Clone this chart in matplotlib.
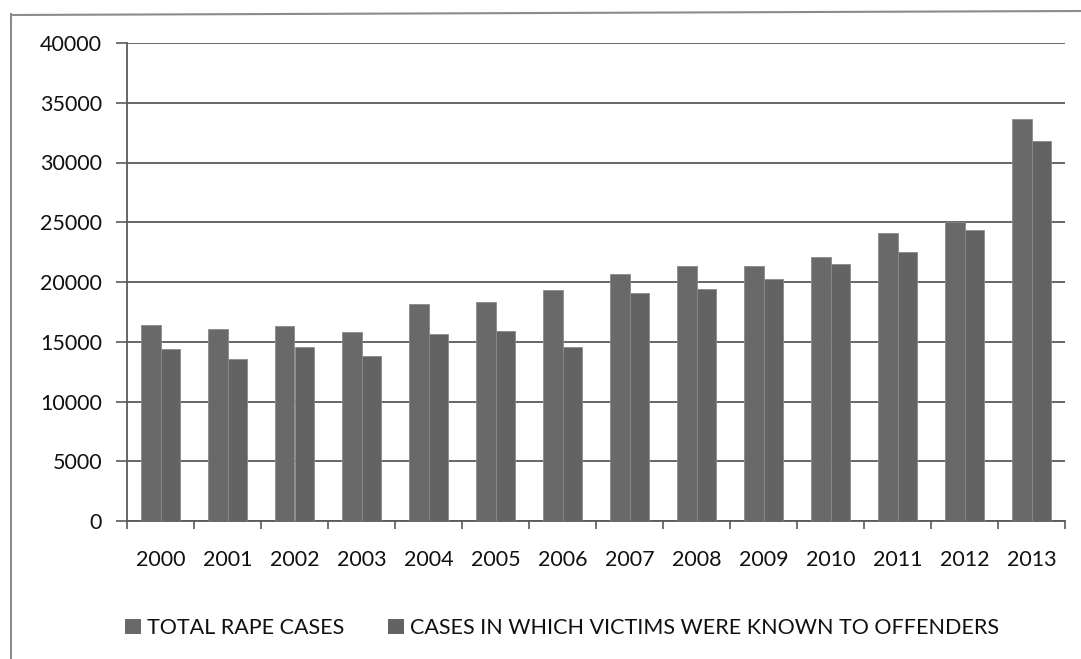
import matplotlib
matplotlib.use("Agg")
import matplotlib.pyplot as plt
from matplotlib.patches import Patch
from matplotlib.lines import Line2D
import numpy as np

years = ["2000", "2001", "2002", "2003", "2004", "2005", "2006",
         "2007", "2008", "2009", "2010", "2011", "2012", "2013"]
total_cases = [16440, 16080, 16330, 15800, 18190, 18300, 19300,
               20640, 21380, 21300, 22100, 24090, 25000, 33670]
known_cases = [14360, 13530, 14530, 13800, 15610, 15860, 14530,
               19090, 19450, 20220, 21490, 22490, 24390, 31800]
series_names = ["TOTAL RAPE CASES", "CASES IN WHICH VICTIMS WERE KNOWN TO OFFENDERS"]
y_ticks = [0, 5000, 10000, 15000, 20000, 25000, 30000, 35000, 40000]

plt.rcParams['font.family'] = ['Lato', 'DejaVu Sans']

W, H = 1081, 659
fig = plt.figure(figsize=(W / 100, H / 100), dpi=100)
ax = fig.add_axes([127 / W, 1 - 521 / H, (1065 - 127) / W, (521 - 43) / H])

c1 = "#696969"
c2 = "#636363"
x = np.arange(len(years))
bw = 0.285
ax.bar(x - bw / 2, total_cases, bw, color=c1, edgecolor="#8a8a8a", linewidth=0.6, zorder=3)
ax.bar(x + bw / 2, known_cases, bw, color=c2, edgecolor="#8a8a8a", linewidth=0.6, zorder=3)

ax.set_xlim(-0.5, len(years) - 0.5)
ax.set_ylim(0, 40000)
ax.set_yticks(y_ticks)
ax.set_yticklabels([str(v) for v in y_ticks])
ax.yaxis.grid(True, color="#5a5a5a", linewidth=1.3, zorder=0)
ax.set_axisbelow(True)

ax.set_xticks(x)
ax.set_xticklabels(years)
ax.set_xticks(np.arange(-0.5, len(years) + 0.5, 1), minor=True)
ax.tick_params(axis="x", which="major", length=0, pad=21, labelsize=15.5, colors="#111111")
ax.tick_params(axis="x", which="minor", length=6, width=1.2, color="#5a5a5a", direction="out")
ax.tick_params(axis="y", length=8, width=1.2, color="#5a5a5a", pad=10, labelsize=15.5, labelcolor="#111111")

for s in ["top", "right"]:
    ax.spines[s].set_visible(False)
for s in ["left", "bottom"]:
    ax.spines[s].set_color("#5a5a5a")
    ax.spines[s].set_linewidth(1.3)

# outer chart frame
fig.add_artist(Line2D([11 / W, 11 / W], [0, 1 - 14 / H], color="#8c8c8c", linewidth=1.5, transform=fig.transFigure))
fig.add_artist(Line2D([11 / W, 1], [1 - 15 / H, 1 - 11 / H], color="#8c8c8c", linewidth=1.5, transform=fig.transFigure))

handles = [Patch(facecolor=c1, edgecolor="none"), Patch(facecolor=c2, edgecolor="none")]
fig.legend(handles, series_names, loc="center", bbox_to_anchor=(562 / W, 1 - 628 / H),
           ncol=2, frameon=False, fontsize=15.5, handlelength=0.75, handleheight=0.75,
           handletextpad=0.3, columnspacing=2.0, labelcolor="#111111")

fig.savefig("out.png", dpi=100, facecolor="white")
